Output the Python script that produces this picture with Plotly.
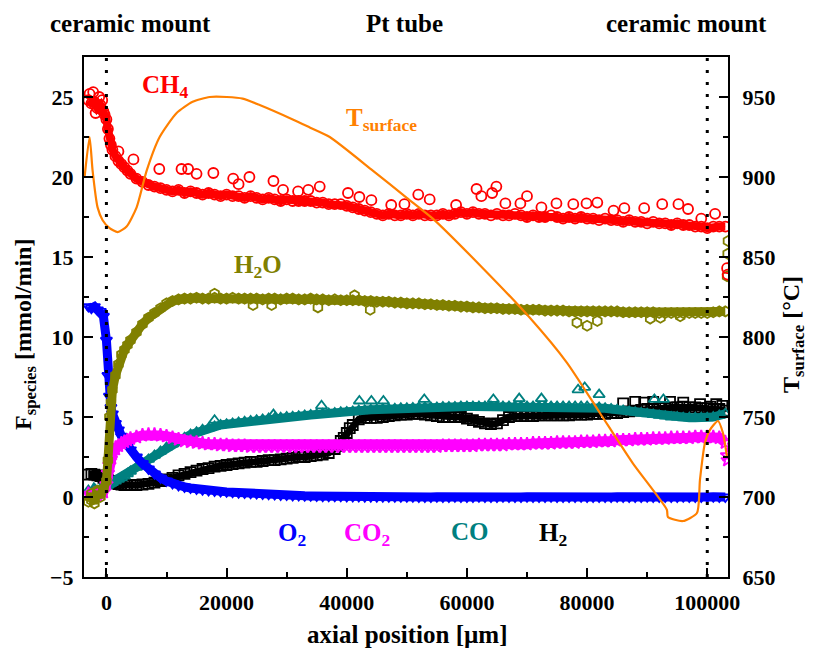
import plotly.graph_objects as go

# ---------------- data ----------------
X = [-3000, -2500, -2000, -1500, -1000, -500, 0, 250, 500, 750,
     1000, 1500, 2000, 2500, 3000, 3500,
     4000, 5000, 6000, 7000, 8000, 9000, 10000, 11000, 12000, 13000,
     14000, 15000, 16000, 17000, 18000, 19000, 20000, 21000, 22000, 23000,
     24000, 25000, 26000, 27000, 28000, 29000, 30000, 31000, 32000, 33000,
     34000, 35000, 36000, 37000, 38000, 39000, 40000, 41000, 42000, 43000,
     44000, 45000, 46000, 47000, 48000, 49000, 50000, 51000, 52000, 53000,
     54000, 55000, 56000, 57000, 58000, 59000, 60000, 61000, 62000, 63000,
     64000, 65000, 66000, 67000, 68000, 69000, 70000, 71000, 72000, 73000,
     74000, 75000, 76000, 77000, 78000, 79000, 80000, 81000, 82000, 83000,
     84000, 85000, 86000, 87000, 88000, 89000, 90000, 91000, 92000, 93000,
     94000, 95000, 96000, 97000, 98000, 99000, 100000, 101000, 102000, 103000]

CH4 = [24.8, 24.6, 24.7, 24.3, 24.5, 24.1, 23.6, 23.0, 22.4, 22.0,
       21.7, 21.3, 21.0, 20.8, 20.6, 20.4,
       20.2, 19.9, 19.7, 19.5, 19.4, 19.3, 19.2, 19.1, 19.2, 19.0,
       19.1, 19.0, 18.9, 19.0, 18.9, 18.8, 18.9, 18.8, 18.8, 18.7,
       18.8, 18.7, 18.6, 18.7, 18.6, 18.5, 18.6, 18.5, 18.5, 18.5,
       18.5, 18.4, 18.4, 18.3, 18.3, 18.3, 18.2, 18.1, 18.0, 17.9,
       17.8, 17.7, 17.6, 17.7, 17.6, 17.6, 17.7, 17.6, 17.7, 17.6,
       17.6, 17.6, 17.7, 17.6, 17.7, 17.8, 17.7, 17.8, 17.7, 17.7,
       17.6, 17.7, 17.6, 17.6, 17.7, 17.6, 17.5, 17.6, 17.5, 17.5,
       17.6, 17.5, 17.4, 17.5, 17.4, 17.5, 17.4, 17.4, 17.3, 17.4,
       17.3, 17.3, 17.2, 17.3, 17.2, 17.2, 17.1, 17.2, 17.1, 17.1,
       17.0, 17.1, 17.0, 17.0, 16.9, 16.9, 16.8, 16.9, 16.9, 16.9]

CH4_SCATTER_X = [-2800, -2200, -1800, -1200, -700, -300, 2000, 4500, 8800, 12500,
                 13600, 15000, 17800, 21100, 22000, 23800, 27800, 29400, 31900, 33600,
                 35500, 40200, 42100, 44100, 47400, 49600, 51900, 53800, 58200, 61600,
                 62400, 64200, 64900, 66400, 68900, 70000, 72400, 74900, 77700, 79900,
                 81700, 84400, 86200, 89500, 92500, 95200, 96800, 99000, 101300, 103300,
                 103400]
CH4_SCATTER_Y = [25.2, 25.3, 24.0, 25.0, 24.8, 23.9, 21.6, 21.1, 20.5, 20.5,
                 20.5, 20.2, 20.25, 19.9, 19.55, 20.0, 19.75, 19.2, 19.1, 19.2,
                 19.4, 19.0, 18.75, 18.55, 18.25, 18.3, 18.9, 18.6, 18.25, 19.25,
                 18.8, 19.0, 19.4, 18.35, 18.35, 18.8, 18.1, 18.35, 18.3, 18.35,
                 18.4, 17.9, 18.05, 18.05, 18.3, 18.3, 18.0, 17.4, 17.7, 14.3,
                 13.9]

H2O = [-0.3, 0.2, -0.4, 0.3, 0.0, 0.5, 1.0, 2.3, 5.0, 5.9,
       6.7, 7.6, 8.3, 8.9, 9.2, 9.5,
       9.8, 10.3, 10.8, 11.2, 11.5, 11.8, 12.1, 12.25, 12.35, 12.4,
       12.4, 12.45, 12.4, 12.4, 12.45, 12.4, 12.4, 12.45, 12.4, 12.4,
       12.4, 12.4, 12.35, 12.4, 12.4, 12.35, 12.4, 12.4, 12.35, 12.35,
       12.4, 12.35, 12.35, 12.3, 12.35, 12.3, 12.3, 12.3, 12.3, 12.25,
       12.25, 12.2, 12.2, 12.2, 12.15, 12.15, 12.1, 12.1, 12.1, 12.05,
       12.05, 12.0, 12.0, 11.95, 11.95, 11.9, 11.9, 11.85, 11.85, 11.8,
       11.8, 11.8, 11.75, 11.75, 11.75, 11.7, 11.7, 11.7, 11.7, 11.65,
       11.65, 11.65, 11.65, 11.6, 11.6, 11.6, 11.6, 11.6, 11.6, 11.6,
       11.6, 11.6, 11.55, 11.55, 11.55, 11.55, 11.55, 11.55, 11.5, 11.5,
       11.5, 11.5, 11.5, 11.5, 11.5, 11.5, 11.5, 11.55, 11.6, 11.6]

H2O_SCATTER_X = [-2500, -1500, 18000, 24400, 27500, 35200, 41300, 43900, 78300, 80000,
                 81700, 90500, 92200, 95500, 103300, 103400, 103450]
H2O_SCATTER_Y = [-0.2, 0.4, 12.7, 12.0, 12.0, 11.85, 12.6, 11.7, 10.9, 10.7,
                 11.0, 11.15, 11.2, 11.3, 13.8, 15.2, 16.0]

O2 = [11.9, 11.8, 11.9, 11.7, 11.6, 11.3, 9.8, 7.6, 6.3, 5.6,
      5.2, 4.6, 4.2, 3.8, 3.5, 3.2,
      2.95, 2.5, 2.1, 1.75, 1.45, 1.2, 1.0, 0.85, 0.72, 0.63,
      0.56, 0.5, 0.45, 0.41, 0.38, 0.35, 0.32, 0.3, 0.27, 0.25,
      0.23, 0.21, 0.19, 0.17, 0.15, 0.13, 0.12, 0.1, 0.09, 0.08,
      0.07, 0.06, 0.05, 0.05, 0.04, 0.04, 0.03, 0.03, 0.03, 0.02,
      0.02, 0.02, 0.02, 0.01, 0.01, 0.01, 0.01, 0.01, 0.0, 0.0,
      0.0, 0.01, 0.0, 0.0, 0.01, 0.0, 0.0, 0.0, 0.01, 0.0,
      0.0, 0.0, 0.01, 0.0, 0.0, 0.0, 0.01, 0.0, 0.0, 0.0,
      0.01, 0.0, 0.0, 0.0, 0.0, 0.01, 0.0, 0.0, 0.0, 0.0,
      0.0, 0.01, 0.0, 0.0, 0.0, 0.0, 0.01, 0.0, 0.0, 0.0,
      0.0, 0.0, 0.01, 0.0, 0.0, 0.0, 0.0, 0.01, 0.0, 0.0]

CO2 = [0.2, 0.1, 0.2, 0.1, 0.2, 0.3, 0.8, 1.5, 2.0, 2.4,
       2.7, 3.0, 3.2, 3.35, 3.45, 3.55,
       3.65, 3.75, 3.85, 3.9, 3.9, 3.85, 3.8, 3.7, 3.6, 3.5,
       3.45, 3.4, 3.35, 3.3, 3.3, 3.25, 3.25, 3.2, 3.2, 3.2,
       3.15, 3.15, 3.15, 3.15, 3.15, 3.15, 3.15, 3.15, 3.15, 3.15,
       3.15, 3.15, 3.15, 3.15, 3.15, 3.15, 3.15, 3.15, 3.15, 3.15,
       3.15, 3.15, 3.15, 3.15, 3.15, 3.15, 3.15, 3.15, 3.15, 3.15,
       3.15, 3.15, 3.2, 3.2, 3.2, 3.2, 3.2, 3.2, 3.25, 3.25,
       3.25, 3.25, 3.25, 3.3, 3.3, 3.3, 3.3, 3.35, 3.35, 3.35,
       3.35, 3.4, 3.4, 3.4, 3.4, 3.45, 3.45, 3.45, 3.5, 3.5,
       3.5, 3.55, 3.55, 3.55, 3.6, 3.6, 3.6, 3.65, 3.65, 3.65,
       3.7, 3.7, 3.7, 3.7, 3.75, 3.75, 3.75, 3.75, 3.7, 3.4]

CO2_SCATTER_X = [103300, 103400]
CO2_SCATTER_Y = [2.6, 2.3]

CO = [0.4, 0.2, 0.5, 0.3, 0.5, 0.6, 0.7, 0.75, 0.8, 0.85,
      0.9, 1.0, 1.1, 1.2, 1.3, 1.45,
      1.6, 1.85, 2.1, 2.35, 2.6, 2.85, 3.1, 3.3, 3.5, 3.7,
      3.9, 4.05, 4.2, 4.3, 4.4, 4.5, 4.55, 4.6, 4.65, 4.7,
      4.75, 4.8, 4.85, 4.9, 4.92, 4.95, 5.0, 5.02, 5.05, 5.1,
      5.12, 5.15, 5.2, 5.22, 5.25, 5.3, 5.32, 5.35, 5.4, 5.42,
      5.45, 5.47, 5.5, 5.5, 5.52, 5.55, 5.55, 5.57, 5.6, 5.6,
      5.6, 5.6, 5.62, 5.62, 5.62, 5.65, 5.65, 5.65, 5.65, 5.65,
      5.65, 5.65, 5.65, 5.65, 5.65, 5.65, 5.65, 5.65, 5.65, 5.65,
      5.65, 5.65, 5.65, 5.65, 5.65, 5.65, 5.65, 5.6, 5.6, 5.55,
      5.5, 5.45, 5.4, 5.35, 5.3, 5.25, 5.2, 5.15, 5.1, 5.05,
      5.0, 5.0, 4.95, 4.95, 4.95, 4.95, 4.95, 5.0, 5.1, 5.2]

CO_SCATTER_X = [18000, 27800, 35800, 42100, 44100, 46100, 52900, 64400, 68700, 72400,
                78500, 79600, 82000, 91200, 92700]
CO_SCATTER_Y = [4.8, 5.15, 5.7, 6.0, 6.0, 6.0, 6.1, 6.1, 6.15, 6.15,
                6.7, 6.85, 6.4, 6.1, 6.1]

H2 = [1.4, 1.45, 1.4, 1.35, 1.3, 1.2, 1.1, 1.05, 1.0, 0.95,
      0.9, 0.85, 0.8, 0.78, 0.75, 0.75,
      0.75, 0.75, 0.78, 0.82, 0.9, 1.0, 1.1, 1.2, 1.35, 1.45,
      1.55, 1.65, 1.75, 1.8, 1.9, 1.95, 2.0, 2.05, 2.1, 2.15,
      2.2, 2.2, 2.25, 2.3, 2.3, 2.35, 2.4, 2.45, 2.5, 2.5,
      2.55, 2.6, 2.65, 2.75, 3.0, 3.5, 4.0, 4.5, 4.85, 4.95,
      4.95, 4.95, 5.0, 5.05, 5.1, 5.15, 5.15, 5.2, 5.2, 5.15,
      5.1, 5.05, 5.0, 5.0, 5.0, 5.0, 4.9, 4.8, 4.7, 4.6,
      4.55, 4.6, 4.8, 5.0, 5.05, 5.05, 5.05, 5.05, 5.1, 5.1,
      5.1, 5.1, 5.1, 5.1, 5.15, 5.15, 5.15, 5.2, 5.2, 5.2,
      5.25, 5.25, 5.3, 5.35, 5.4, 5.45, 5.5, 5.5, 5.55, 5.55,
      5.6, 5.6, 5.65, 5.6, 5.6, 5.55, 5.55, 5.5, 5.5, 5.4]

H2_SCATTER_X = [86000, 88000, 89500, 91000, 93800, 96000, 98800, 100500, 101500, 102500,
                38500, 39500, 40500]
H2_SCATTER_Y = [5.85, 5.95, 5.9, 5.95, 5.95, 5.9, 5.8, 5.65, 5.8, 5.7,
                3.2, 3.7, 4.3]

T_X = [-3630, -2800, -2300, -1470, -630, 530, 1870, 3360, 5030, 6700,
       8860, 11690, 14350, 17190, 20020, 22680, 25510, 31010, 33840, 37170,
       44330, 49990, 54320, 62650, 70470, 76630, 82130, 87620, 93280, 93450,
       95950, 98280, 98780, 99610, 100450, 101780, 102610, 103280]
T_SURF = [900, 925, 904, 881, 873, 868, 865.6, 869, 881, 904,
          925, 940, 947, 950, 950, 949, 945, 936, 931, 925,
          904, 887, 874, 843, 812, 784, 752.5, 721, 692, 687.5,
          685, 690, 710.6, 733.75, 742, 747.5, 740, 725]

MOUNT_EDGES = [0, 100000]

X_TICKS = [0, 20000, 40000, 60000, 80000, 100000]
Y_TICKS = [-5, 0, 5, 10, 15, 20, 25]
T_TICKS = [650, 700, 750, 800, 850, 900, 950]

# ---------------- styles ----------------
FONT = "Liberation Serif, Times New Roman, serif"
RED = "#ff0000"
OLIVE = "#808000"
BLUE = "#0000ff"
MAGENTA = "#ff00ff"
TEAL = "#008080"
BLACK = "#000000"
ORANGE = "#ff8000"

fig = go.Figure()


def band(x, y, color, symbol, lw=5, size=10):
    fig.add_trace(go.Scatter(
        x=x, y=y, mode="lines+markers",
        line=dict(color=color, width=lw),
        marker=dict(symbol=symbol, size=size, color=color,
                    line=dict(color=color, width=1.8)),
        showlegend=False, hoverinfo="skip"))


def scatter(x, y, color, symbol, size=10):
    fig.add_trace(go.Scatter(
        x=x, y=y, mode="markers",
        marker=dict(symbol=symbol, size=size, color=color,
                    line=dict(color=color, width=1.8)),
        showlegend=False, hoverinfo="skip"))


band(X, H2, BLACK, "square-open", 7)
scatter(H2_SCATTER_X, H2_SCATTER_Y, BLACK, "square-open")
band(X, CO, TEAL, "triangle-up-open", 9)
scatter(CO_SCATTER_X, CO_SCATTER_Y, TEAL, "triangle-up-open")
band(X, O2, BLUE, "triangle-down-open", 9)
band(X, CO2, MAGENTA, "star-open", 10)
scatter(CO2_SCATTER_X, CO2_SCATTER_Y, MAGENTA, "star-open")
band(X, H2O, OLIVE, "hexagon-open", 9)
scatter(H2O_SCATTER_X, H2O_SCATTER_Y, OLIVE, "hexagon-open")
band(X, CH4, RED, "circle-open", 8)
scatter(CH4_SCATTER_X, CH4_SCATTER_Y, RED, "circle-open")

fig.add_trace(go.Scatter(
    x=T_X, y=T_SURF, mode="lines", yaxis="y2",
    line=dict(color=ORANGE, width=2.2, shape="spline", smoothing=0.6),
    showlegend=False, hoverinfo="skip"))

for xe in MOUNT_EDGES:
    fig.add_shape(type="line", xref="x", yref="paper", x0=xe, x1=xe, y0=0, y1=1,
                  line=dict(color="black", width=3, dash="3px,9px"), layer="above")

tickfont = dict(family=FONT, size=22, color="black", weight="bold")
axis_common = dict(showline=True, linecolor="black", linewidth=2,
                   ticks="inside", ticklen=9, tickwidth=2, tickcolor="black",
                   showgrid=False, zeroline=False, tickfont=tickfont)

# The page body adds an 8 px offset; the figure is sized so that the plot
# area lands at x 84..728, y 57..577 of the 816x652 window.
fig.update_layout(
    width=808, height=644,
    margin=dict(l=76, r=88, t=49, b=75),
    paper_bgcolor="white", plot_bgcolor="white",
    font=dict(family=FONT, color="black"),
    xaxis=dict(range=[-3730, 103450], tickvals=X_TICKS,
               ticktext=[str(v) for v in X_TICKS], mirror=True,
               minor=dict(dtick=10000, ticklen=5, tickwidth=2, tickcolor="black", ticks="inside"),
               ticklabelstandoff=5, **axis_common),
    yaxis=dict(range=[-5, 27.5], tickvals=Y_TICKS,
               minor=dict(dtick=2.5, ticklen=5, tickwidth=2, tickcolor="black", ticks="inside"),
               ticklabelstandoff=4, **axis_common),
    yaxis2=dict(range=[650, 975], tickvals=T_TICKS, overlaying="y", side="right",
                minor=dict(dtick=25, ticklen=5, tickwidth=2, tickcolor="black", ticks="inside"),
                ticklabelstandoff=8, **axis_common),
)


def px_x(px):
    return (px - 84) / 644


def px_y(py):
    return (577 - py) / 520


annos = [
    ("<b>ceramic mount</b>", 130, 23, "black", 25, 0),
    ("<b>Pt tube</b>", 404, 23, "black", 25, 0),
    ("<b>ceramic mount</b>", 686, 23, "black", 25, 0),
    ("<b>axial position [µm]</b>", 408, 634, "black", 25, 0),
    ("<b>F<sub>species</sub> [mmol/min]</b>", 25, 335, "black", 24, -90),
    ("<b>T<sub>surface</sub> [°C]</b>", 793, 335, "black", 24, -90),
    ("<b>CH<sub>4</sub></b>", 165, 86, RED, 25, 0),
    ("<b>T<sub>surface</sub></b>", 381, 119, ORANGE, 25, 0),
    ("<b>H<sub>2</sub>O</b>", 258, 266, OLIVE, 25, 0),
    ("<b>O<sub>2</sub></b>", 292, 534, BLUE, 25, 0),
    ("<b>CO<sub>2</sub></b>", 367, 534, MAGENTA, 25, 0),
    ("<b>CO</b>", 470, 531, TEAL, 25, 0),
    ("<b>H<sub>2</sub></b>", 553, 534, BLACK, 25, 0),
]
for text, x, y, col, size, ang in annos:
    fig.add_annotation(text=text, xref="paper", yref="paper", x=px_x(x), y=px_y(y),
                       xanchor="center", yanchor="middle", showarrow=False,
                       textangle=ang, font=dict(family=FONT, size=size, color=col))

fig.write_html("out.html")
